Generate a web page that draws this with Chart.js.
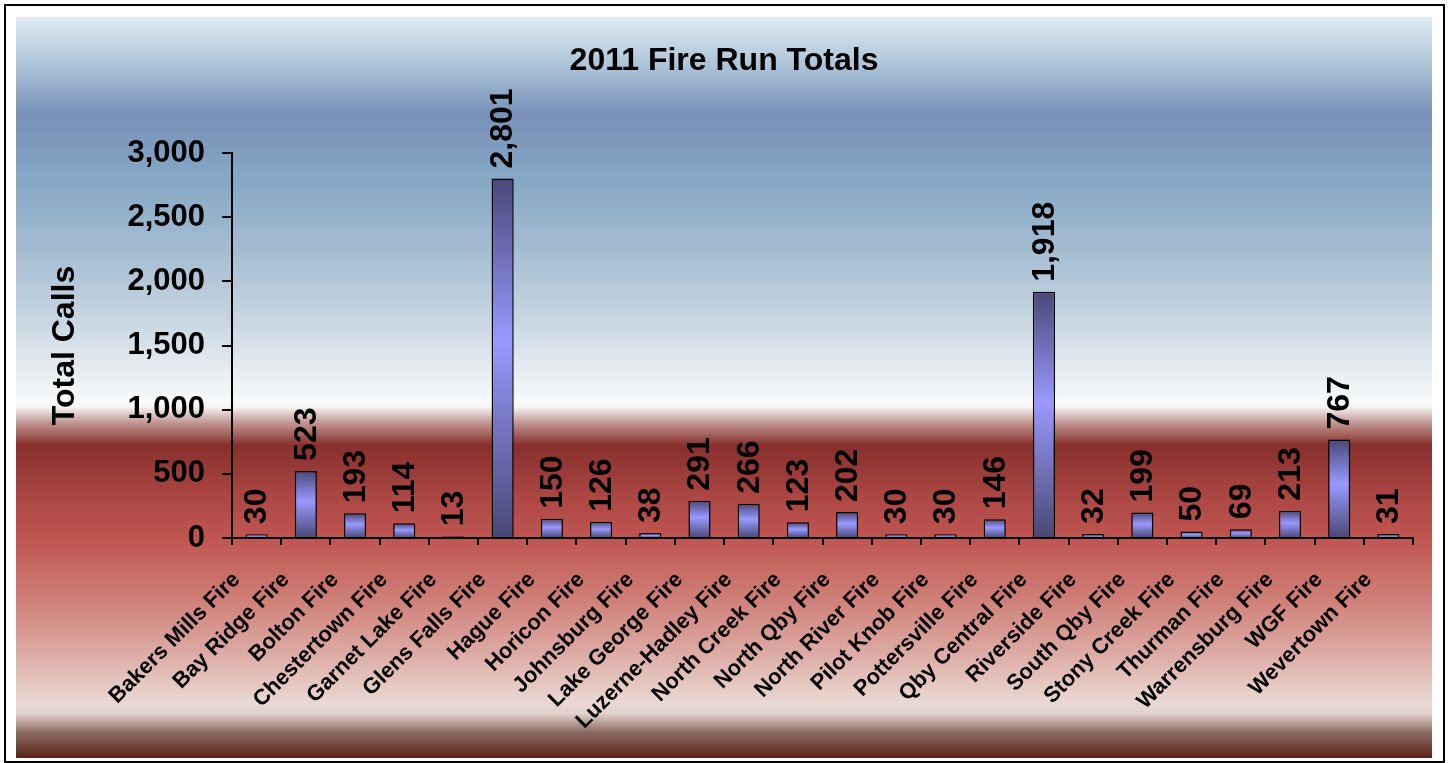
<!DOCTYPE html>
<html>
<head>
<meta charset="utf-8">
<script src="https://cdn.jsdelivr.net/npm/chart.js@4"></script>
<style>
  html, body { margin: 0; padding: 0; background: #fff; }
  canvas { display: block; }
</style>
</head>
<body>
<canvas id="chart" width="1448" height="763"></canvas>
<script>
const categories = [
    'Bakers Mills Fire', 'Bay Ridge Fire', 'Bolton Fire', 'Chestertown Fire',
    'Garnet Lake Fire', 'Glens Falls Fire', 'Hague Fire', 'Horicon Fire',
    'Johnsburg Fire', 'Lake George Fire', 'Luzerne-Hadley Fire', 'North Creek Fire',
    'North Qby Fire', 'North River Fire', 'Pilot Knob Fire', 'Pottersville Fire',
    'Qby Central Fire', 'Riverside Fire', 'South Qby Fire', 'Stony Creek Fire',
    'Thurman Fire', 'Warrensburg Fire', 'WGF Fire', 'Wevertown Fire'
];
const totalCalls = [30, 523, 193, 114, 13, 2801, 150, 126, 38, 291, 266, 123, 202, 30, 30, 146, 1918, 32, 199, 50, 69, 213, 767, 31];
const yTicks = [0, 500, 1000, 1500, 2000, 2500, 3000];
const chartTitle = '2011 Fire Run Totals';

const fontFamily = '"Liberation Sans", Arial, sans-serif';

// background panel, frame and title
const backdrop = {
    id: 'backdrop',
    beforeDraw(chart) {
        const ctx = chart.ctx;
        ctx.save();
        ctx.fillStyle = '#ffffff';
        ctx.fillRect(0, 0, chart.width, chart.height);
        const top = 17, bottom = 758;
        const g = ctx.createLinearGradient(0, top, 0, bottom);
        g.addColorStop(0.000, '#dfeaf3');
        g.addColorStop(0.058, '#b2c9dc');
        g.addColorStop(0.131, '#7890b7');
        g.addColorStop(0.220, '#86a8c5');
        g.addColorStop(0.314, '#a4bcd2');
        g.addColorStop(0.409, '#c8d6e2');
        g.addColorStop(0.476, '#e6ecf0');
        g.addColorStop(0.520, '#f8fafb');
        g.addColorStop(0.526, '#f6f4f4');
        g.addColorStop(0.548, '#c09490');
        g.addColorStop(0.578, '#872f2c');
        g.addColorStop(0.652, '#ae4845');
        g.addColorStop(0.706, '#c05652');
        g.addColorStop(0.787, '#cf8078');
        g.addColorStop(0.854, '#dca8a2');
        g.addColorStop(0.925, '#ead8d2');
        g.addColorStop(0.940, '#e2d2cc');
        g.addColorStop(0.965, '#8c6c64');
        g.addColorStop(1.000, '#5a2418');
        ctx.fillStyle = g;
        ctx.fillRect(16, top, 1432 - 16, bottom - top);
        ctx.strokeStyle = '#000';
        ctx.lineWidth = 2;
        ctx.strokeRect(5, 5, 1439, 757);

        ctx.fillStyle = '#000';
        ctx.font = 'bold 32px ' + fontFamily;
        ctx.textAlign = 'center';
        ctx.textBaseline = 'middle';
        ctx.fillText(chartTitle, 724, 61);
        ctx.restore();
    }
};

// vertical value labels above bars
const barValues = {
    id: 'barValues',
    afterDatasetsDraw(chart) {
        const ctx = chart.ctx;
        const meta = chart.getDatasetMeta(0);
        ctx.save();
        ctx.fillStyle = '#000';
        ctx.font = 'bold 32px ' + fontFamily;
        ctx.textAlign = 'left';
        ctx.textBaseline = 'middle';
        meta.data.forEach((bar, i) => {
            ctx.save();
            ctx.translate(bar.x + 1, bar.y - 10);
            ctx.rotate(-Math.PI / 2);
            ctx.fillText(totalCalls[i].toLocaleString('en-US'), 0, 0);
            ctx.restore();
        });
        ctx.restore();
    }
};

function barFill(context) {
    const chart = context.chart;
    const y = chart.scales.y;
    if (!y || context.raw == null) return '#9999ff';
    const top = y.getPixelForValue(context.raw);
    const base = y.getPixelForValue(0);
    if (!isFinite(top) || base - top < 1) return '#9999ff';
    const g = chart.ctx.createLinearGradient(0, top, 0, base);
    g.addColorStop(0, '#484878');
    g.addColorStop(0.45, '#9999ff');
    g.addColorStop(1, '#484874');
    return g;
}

new Chart(document.getElementById('chart'), {
    type: 'bar',
    data: {
        labels: categories,
        datasets: [{
            label: 'Total Calls',
            data: totalCalls,
            backgroundColor: barFill,
            borderColor: '#000',
            borderWidth: 1.5,
            barPercentage: 0.45,
            categoryPercentage: 1
        }]
    },
    options: {
        responsive: false,
        animation: false,
        layout: { padding: { top: 153, right: 35, left: 0, bottom: 0 } },
        plugins: {
            legend: { display: false },
            tooltip: { enabled: false },
            title: { display: false }
        },
        scales: {
            x: {
                offset: true,
                grid: { display: true, offset: true, drawOnChartArea: false, color: '#000', tickLength: 7, lineWidth: 2 },
                border: { color: '#000', width: 2 },
                ticks: {
                    color: '#000',
                    font: { family: fontFamily, size: 22, weight: 'bold' },
                    minRotation: 45,
                    maxRotation: 45,
                    autoSkip: false,
                    padding: 22,
                    labelOffset: -20
                },
                afterFit(scale) { scale.height = 225; }
            },
            y: {
                min: 0,
                max: 3000,
                afterBuildTicks(scale) { scale.ticks = yTicks.map(v => ({ value: v })); },
                grid: { display: true, drawOnChartArea: false, color: '#000', tickLength: 10, lineWidth: 2 },
                border: { color: '#000', width: 2 },
                ticks: {
                    color: '#000',
                    padding: 17,
                    font: { family: fontFamily, size: 31, weight: 'bold' },
                    callback: v => v.toLocaleString('en-US')
                },
                title: {
                    display: true,
                    text: 'Total Calls',
                    color: '#000',
                    font: { family: fontFamily, size: 32, weight: 'bold' },
                    padding: { top: 46, bottom: 0 }
                },
                afterFit(scale) { scale.width = 232; }
            }
        }
    },
    plugins: [backdrop, barValues]
});
</script>
</body>
</html>
